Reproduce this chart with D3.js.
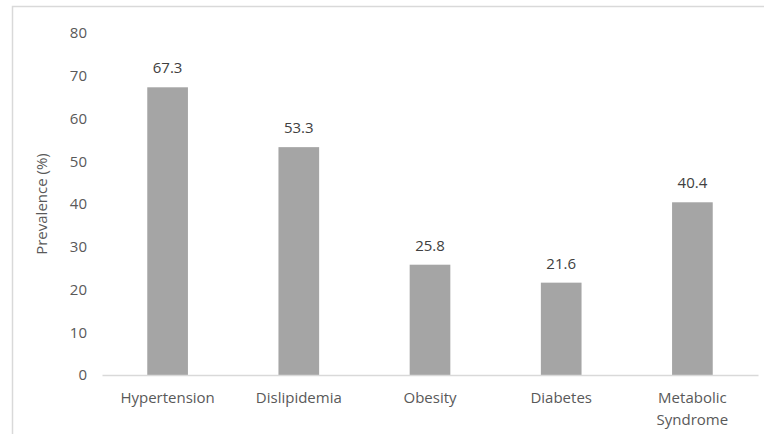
<!DOCTYPE html>
<html>
<head>
<meta charset="utf-8">
<script src="https://cdn.jsdelivr.net/npm/d3@7"></script>
<style>
  body { margin: 0; background: #fff; }
  text { font-family: "Open Sans", "Noto Sans", sans-serif; }
</style>
</head>
<body>
<div id="chart"></div>
<script>
var categories = ["Hypertension", "Dislipidemia", "Obesity", "Diabetes", "Metabolic Syndrome"];
var prevalence = [67.3, 53.3, 25.8, 21.6, 40.4];
var yTicks = [0, 10, 20, 30, 40, 50, 60, 70, 80];

var svgWidth = 764, svgHeight = 434;
var margin = { top: 33, right: 6, bottom: 59, left: 102 },
    width = svgWidth - margin.left - margin.right,
    height = svgHeight - margin.top - margin.bottom;

var fontSize = 15;

var svg = d3.select("#chart").append("svg")
    .attr("width", svgWidth)
    .attr("height", svgHeight);

// chart frame (only top and left edges show in the picture)
svg.append("path")
    .attr("d", "M12.5,434V6.5H764")
    .attr("fill", "none")
    .attr("stroke", "#d9d9d9")
    .attr("stroke-width", 1.5);

var g = svg.append("g")
    .attr("transform", "translate(" + margin.left + "," + margin.top + ")");

var x = d3.scaleBand().domain(categories).range([0, width]).paddingInner(0.69).paddingOuter(0.345);
var y = d3.scaleLinear().domain([0, 80]).range([height, 0]);

var data = categories.map(function (c, i) { return { name: c, value: prevalence[i] }; });

g.selectAll(".bar")
    .data(data)
    .enter().append("rect")
    .attr("class", "bar")
    .attr("x", function (d) { return x(d.name); })
    .attr("y", function (d) { return y(d.value); })
    .attr("width", x.bandwidth())
    .attr("height", function (d) { return height - y(d.value); })
    .attr("fill", "#a5a5a5");

// value labels
g.selectAll(".val")
    .data(data)
    .enter().append("text")
    .attr("class", "val")
    .attr("x", function (d) { return x(d.name) + x.bandwidth() / 2; })
    .attr("y", function (d) { return y(d.value) - 14; })
    .attr("text-anchor", "middle")
    .attr("font-size", fontSize)
    .attr("fill", "#404040")
    .text(function (d) { return d.value.toFixed(1); });

// y axis (labels only)
var yAxis = g.append("g")
    .attr("class", "axis axis-y")
    .call(d3.axisLeft(y).tickValues(yTicks).tickSize(0).tickPadding(15));
yAxis.select(".domain").remove();
yAxis.selectAll("text")
    .attr("font-size", fontSize)
    .attr("fill", "#595959")
    .style("font-family", "'Open Sans', 'Noto Sans', sans-serif");

// x axis
var xAxis = g.append("g")
    .attr("class", "axis axis-x")
    .attr("transform", "translate(0," + height + ")")
    .call(d3.axisBottom(x).tickSize(0).tickPadding(0));
xAxis.select(".domain").attr("stroke", "#d9d9d9").attr("stroke-width", 1.3);
xAxis.selectAll(".tick text").remove();
xAxis.selectAll(".tick").each(function (d) {
    var words = d === "Metabolic Syndrome" ? ["Metabolic", "Syndrome"] : [d];
    var t = d3.select(this).append("text")
        .attr("text-anchor", "middle")
        .attr("font-size", fontSize)
        .attr("fill", "#595959");
    words.forEach(function (w, i) {
        t.append("tspan").attr("x", 0).attr("y", 28 + i * 22).text(w);
    });
});

// y axis title
svg.append("text")
    .attr("transform", "translate(47," + (margin.top + height / 2) + ") rotate(-90)")
    .attr("text-anchor", "middle")
    .attr("font-size", fontSize)
    .attr("fill", "#595959")
    .text("Prevalence (%)");
</script>
</body>
</html>
